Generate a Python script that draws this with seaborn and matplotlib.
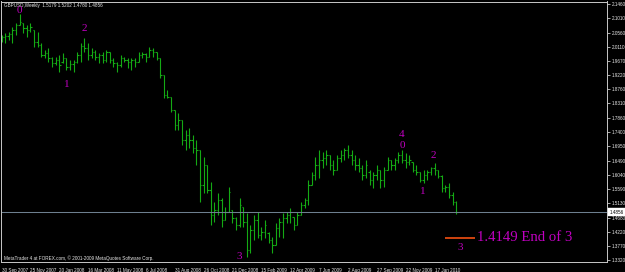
import matplotlib
matplotlib.use("Agg")
import matplotlib.pyplot as plt
import numpy as np
import pandas as pd
import seaborn as sns

# ---------------- data (GBPUSD weekly) ----------------
symbol = "GBPUSD,Weekly"
first_week = "2007-09-30"
opens = [2.0326, 2.0421, 2.0453, 2.0517, 2.0644, 2.0803, 2.0867, 2.0708, 2.0644, 2.0644,
         2.0262, 2.0167, 1.9849, 1.9913, 1.9754, 1.9595, 1.9690, 1.9626, 1.9754, 1.9467,
         1.9563, 1.9626, 1.9849, 2.0135, 2.0072, 1.9849, 1.9944, 1.9785, 1.9849, 1.9690,
         1.9944, 1.9690, 1.9595, 1.9531, 1.9754, 1.9690, 1.9626, 1.9690, 1.9626, 1.9849,
         1.9881, 1.9785, 2.0008, 1.9944, 1.9754, 1.9213, 1.8577, 1.8513, 1.8100, 1.7623,
         1.7782, 1.7146, 1.7305, 1.7146, 1.6892, 1.6828, 1.5715, 1.6351, 1.5556, 1.4761,
         1.4920, 1.5238, 1.4602, 1.4856, 1.4920, 1.4666, 1.4443, 1.5015, 1.4538, 1.3648,
         1.4284, 1.4602, 1.4125, 1.4220, 1.4189, 1.3966, 1.3807, 1.4348, 1.4538, 1.4666,
         1.4761, 1.4697, 1.4443, 1.4761, 1.5079, 1.5238, 1.5715, 1.6033, 1.6351, 1.6510,
         1.6574, 1.6669, 1.6351, 1.6192, 1.6574, 1.6669, 1.6828, 1.6669, 1.6510, 1.6351,
         1.6256, 1.6033, 1.6128, 1.5874, 1.6033, 1.6192, 1.5874, 1.6192, 1.6510, 1.6351,
         1.6510, 1.6669, 1.6510, 1.6446, 1.6446, 1.6192, 1.6128, 1.5874, 1.6033, 1.6128,
         1.6256, 1.6192, 1.6001, 1.5620, 1.5651, 1.5397, 1.5179]
highs = [2.0485, 2.0549, 2.0580, 2.0739, 2.0867, 2.1153, 2.0867, 2.0803, 2.0867, 2.0644,
         2.0580, 2.0231, 2.0008, 2.0072, 1.9785, 1.9785, 1.9849, 1.9913, 1.9754, 1.9690,
         1.9690, 1.9944, 2.0231, 2.0390, 2.0231, 2.0072, 2.0008, 1.9913, 1.9944, 2.0008,
         1.9944, 1.9754, 1.9626, 1.9849, 1.9785, 1.9754, 1.9754, 1.9754, 1.9944, 1.9944,
         1.9913, 2.0103, 2.0072, 1.9944, 1.9754, 1.9213, 1.8736, 1.8513, 1.8100, 1.8005,
         1.7782, 1.7464, 1.7528, 1.7305, 1.7146, 1.6828, 1.6605, 1.6351, 1.5810, 1.5174,
         1.5461, 1.5302, 1.5015, 1.5651, 1.4920, 1.4697, 1.5302, 1.5015, 1.4825, 1.4443,
         1.4761, 1.4856, 1.4379, 1.4602, 1.4220, 1.4061, 1.4507, 1.4666, 1.4825, 1.4856,
         1.4984, 1.4697, 1.4856, 1.5174, 1.5302, 1.5874, 1.6128, 1.6605, 1.6828, 1.6764,
         1.6828, 1.6669, 1.6510, 1.6669, 1.6828, 1.6892, 1.6987, 1.6828, 1.6669, 1.6574,
         1.6351, 1.6510, 1.6192, 1.6128, 1.6351, 1.6192, 1.6287, 1.6605, 1.6510, 1.6574,
         1.6764, 1.6828, 1.6733, 1.6669, 1.6446, 1.6351, 1.6128, 1.6192, 1.6192, 1.6287,
         1.6415, 1.6192, 1.6033, 1.5715, 1.5779, 1.5492, 1.5202]
lows = [2.0262, 2.0231, 2.0326, 2.0231, 2.0485, 2.0803, 2.0549, 2.0421, 2.0580, 2.0103,
        2.0103, 1.9785, 1.9754, 1.9626, 1.9467, 1.9531, 1.9308, 1.9595, 1.9372, 1.9372,
        1.9308, 1.9595, 1.9626, 1.9944, 1.9690, 1.9754, 1.9690, 1.9595, 1.9595, 1.9626,
        1.9595, 1.9467, 1.9308, 1.9467, 1.9626, 1.9436, 1.9372, 1.9467, 1.9626, 1.9754,
        1.9626, 1.9785, 1.9785, 1.9690, 1.9118, 1.8482, 1.8482, 1.8036, 1.7464, 1.7464,
        1.6987, 1.6828, 1.6892, 1.6733, 1.6351, 1.5174, 1.5461, 1.5461, 1.4443, 1.4538,
        1.4761, 1.4379, 1.4602, 1.4856, 1.4507, 1.4284, 1.4379, 1.4379, 1.3425, 1.3553,
        1.3966, 1.4030, 1.3966, 1.4030, 1.3871, 1.3553, 1.3807, 1.4061, 1.4030, 1.4507,
        1.4507, 1.4284, 1.4443, 1.4761, 1.4984, 1.5079, 1.5715, 1.5874, 1.5938, 1.6256,
        1.6351, 1.6192, 1.6033, 1.6192, 1.6446, 1.6510, 1.6574, 1.6351, 1.6192, 1.6128,
        1.5874, 1.5938, 1.5715, 1.5620, 1.5874, 1.5620, 1.5651, 1.6192, 1.6192, 1.6192,
        1.6415, 1.6415, 1.6256, 1.6351, 1.6128, 1.6033, 1.5810, 1.5779, 1.5874, 1.6033,
        1.6033, 1.5938, 1.5492, 1.5492, 1.5302, 1.5079, 1.4780]
closes = [2.0421, 2.0453, 2.0517, 2.0644, 2.0803, 2.0898, 2.0708, 2.0644, 2.0739, 2.0262,
          2.0167, 1.9849, 1.9913, 1.9754, 1.9595, 1.9690, 1.9531, 1.9754, 1.9467, 1.9563,
          1.9626, 1.9849, 2.0135, 2.0072, 1.9849, 1.9944, 1.9785, 1.9849, 1.9690, 1.9944,
          1.9690, 1.9595, 1.9531, 1.9754, 1.9690, 1.9626, 1.9690, 1.9626, 1.9849, 1.9881,
          1.9785, 2.0008, 1.9944, 1.9754, 1.9213, 1.8577, 1.8513, 1.8100, 1.7623, 1.7782,
          1.7146, 1.7305, 1.7146, 1.6892, 1.6828, 1.5715, 1.6351, 1.5556, 1.4761, 1.4920,
          1.5238, 1.4602, 1.4856, 1.5492, 1.4666, 1.4443, 1.5079, 1.4538, 1.3648, 1.4284,
          1.4602, 1.4125, 1.4220, 1.4443, 1.3966, 1.3807, 1.4348, 1.4538, 1.4666, 1.4761,
          1.4856, 1.4443, 1.4761, 1.5079, 1.5238, 1.5715, 1.6033, 1.6351, 1.6510, 1.6574,
          1.6669, 1.6351, 1.6192, 1.6574, 1.6669, 1.6828, 1.6669, 1.6510, 1.6351, 1.6256,
          1.6033, 1.6351, 1.5874, 1.6033, 1.6192, 1.5874, 1.6192, 1.6510, 1.6351, 1.6510,
          1.6669, 1.6510, 1.6446, 1.6510, 1.6192, 1.6128, 1.5874, 1.6033, 1.6128, 1.6256,
          1.6192, 1.6001, 1.5620, 1.5651, 1.5397, 1.5174, 1.4856]

date_labels = ["30 Sep 2007", "25 Nov 2007", "20 Jan 2008", "16 Mar 2008", "11 May 2008",
               "6 Jul 2008", "31 Aug 2008", "26 Oct 2008", "21 Dec 2008", "15 Feb 2009",
               "12 Apr 2009", "7 Jun 2009", "2 Aug 2009", "27 Sep 2009", "22 Nov 2009",
               "17 Jan 2010"]
price_labels = ["2.1460", "2.1010", "2.0560", "2.0110", "1.9670", "1.9220", "1.8760",
                "1.8310", "1.7860", "1.7400", "1.6950", "1.6490", "1.6040", "1.5590",
                "1.5130", "1.4680", "1.4220", "1.3770", "1.3320"]

# Elliott wave labels: (text, bar index, price)
wave_texts = ["0", "2", "1", "3", "4", "0", "2", "1"]
wave_bars = [5, 23, 18, 66, 111, 111, 119.8, 116.8]
wave_prices = [2.126, 2.068, 1.890, 1.343, 1.731, 1.696, 1.664, 1.552]

target_level = 1.4040
target_text = "1.4149 End of 3"
copyright_text = "MetaTrader 4 at FOREX.com, \u00a9 2001-2009 MetaQuotes Software Corp."

# ---------------- styling ----------------
sns.set_theme(style="dark", rc={"axes.facecolor": "black", "figure.facecolor": "black"})
small_font = ["Liberation Sans", "DejaVu Sans"]
plt.rcParams["font.family"] = small_font
fs_small = 3.3

df = pd.DataFrame({"date": pd.date_range(first_week, periods=len(closes), freq="7D"),
                   "open": opens, "high": highs, "low": lows, "close": closes})
df["idx"] = np.arange(len(df))

W, H = 625, 272
fig = plt.figure(figsize=(W / 100, H / 100), dpi=100)
ax = fig.add_axes([1 / W, (H - 262) / H, 606 / W, 260.5 / H])
ax.set_facecolor("black")

bar_color = "#14aa14"
lw = 0.8
ax.vlines(df["idx"], df["low"], df["high"], color=bar_color, lw=lw)
ax.hlines(df["open"], df["idx"] - 0.38, df["idx"], color=bar_color, lw=lw)
ax.hlines(df["close"], df["idx"], df["idx"] + 0.38, color=bar_color, lw=lw)

last_close = closes[-1]
ax.axhline(last_close, color="#6d7f8f", lw=0.75)

ax.set_xlim(-0.14, 167.8)
ax.set_ylim(1.3266, 2.1550)

spine_col = "#c8c8c8"
for s in ax.spines.values():
    s.set_color(spine_col)
    s.set_linewidth(0.7)
    s.set_visible(True)

ax.yaxis.tick_right()
ax.set_yticks([float(v) for v in price_labels])
ax.set_yticklabels(price_labels)
ax.set_xticks(df["idx"][::8])
ax.set_xticklabels(date_labels)
ax.tick_params(axis="y", direction="out", length=2.2, width=0.6, color=spine_col,
               labelsize=fs_small, labelcolor="#e8e8e8", pad=1.2)
ax.tick_params(axis="x", direction="out", length=2.5, width=0.6, color=spine_col,
               labelsize=fs_small, labelcolor="#e8e8e8", pad=1.5)
for t in ax.get_xticklabels():
    t.set_ha("left")
ax.grid(False)
ax.set_xlabel("")
ax.set_ylabel("")

# current price box
ax.text(1.004, last_close, f"{last_close:.4f}", transform=ax.get_yaxis_transform(),
        ha="left", va="center", fontsize=fs_small, color="black",
        bbox=dict(boxstyle="square,pad=0.3", fc="white", ec="white", lw=0.3), clip_on=False)

# header and copyright
ax.text(3 / 606, 1 - 4 / 260.5,
        f"{symbol}  {opens[-1]:.4f} {highs[-1]:.4f} {lows[-1]:.4f} {closes[-1]:.4f}",
        transform=ax.transAxes, ha="left", va="center", fontsize=fs_small, color="#e8e8e8")
ax.text(3 / 606, 4 / 260.5, copyright_text, transform=ax.transAxes, ha="left",
        va="center", fontsize=fs_small, color="#e8e8e8")

# wave labels
mag = "#c000c0"
serif = ["Liberation Serif", "DejaVu Serif"]
for t, xb, yp in zip(wave_texts, wave_bars, wave_prices):
    ax.text(xb, yp, t, ha="center", va="center", fontsize=8, color=mag, family=serif)

# target line and text
ax.hlines(target_level, 122.9, 131.2, color="#e04a10", lw=1.3)
ax.text(127.1, 1.3743, "3", ha="center", va="center", fontsize=8, color=mag, family=serif)
ax.text(131.8, target_level + 0.001, target_text, ha="left", va="center", fontsize=10.6,
        color=mag, family=serif)

fig.savefig("out.png", dpi=100, facecolor="black")
